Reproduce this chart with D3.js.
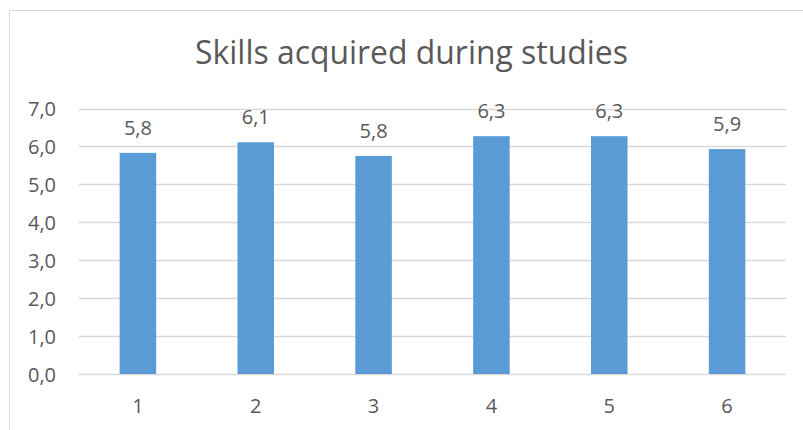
<!DOCTYPE html>
<html>
<head>
<meta charset="utf-8">
<script src="https://cdn.jsdelivr.net/npm/d3@7"></script>
<style>
  body { margin: 0; background: #fff; }
  text { font-family: "Open Sans", sans-serif; fill: #595959; }
</style>
</head>
<body>
<div id="chart"></div>
<script>
const w = 803;
const h = 430;

// data
const categories = ["1", "2", "3", "4", "5", "6"];
const values = [5.83, 6.11, 5.75, 6.27, 6.27, 5.93];
const yTicks = [0, 1, 2, 3, 4, 5, 6, 7];
const title = "Skills acquired during studies";

const fmt = v => d3.format(".1f")(v).replace(".", ",");

const svg = d3.select("#chart")
    .append("svg")
    .attr("width", w)
    .attr("height", h);

// chart area frame (cropped at right and bottom)
svg.append("rect")
    .attr("x", 9.5)
    .attr("y", 10.5)
    .attr("width", w + 20)
    .attr("height", h + 20)
    .attr("fill", "none")
    .attr("stroke", "#d9d9d9");

const plot = {left: 79, right: 786, top: 108.5, bottom: 374};

const x = d3.scaleBand()
    .domain(categories)
    .range([plot.left, plot.right])
    .paddingInner(0.69)
    .paddingOuter(0.345);

const y = d3.scaleLinear()
    .domain([0, 7])
    .range([plot.bottom, plot.top]);

// gridlines
svg.append("g")
    .selectAll("line")
    .data(yTicks)
    .enter()
    .append("line")
    .attr("x1", plot.left)
    .attr("x2", plot.right)
    .attr("y1", d => Math.round(y(d)) + 0.5)
    .attr("y2", d => Math.round(y(d)) + 0.5)
    .attr("stroke", "#d9d9d9")
    .attr("stroke-width", 1.3);

// y axis labels
const yAxis = d3.axisLeft(y)
    .tickValues(yTicks)
    .tickFormat(fmt)
    .tickSize(0)
    .tickPadding(0);

svg.append("g")
    .attr("transform", `translate(${56}, 0)`)
    .call(yAxis)
    .call(g => g.select(".domain").remove())
    .selectAll("text")
    .attr("font-family", "Open Sans")
    .attr("font-size", 20)
    .attr("dy", "0.35em")
    .attr("fill", "#595959");

// bars
svg.append("g")
    .selectAll("rect")
    .data(values)
    .enter()
    .append("rect")
    .attr("x", (d, i) => x(categories[i]))
    .attr("y", d => y(d))
    .attr("width", x.bandwidth())
    .attr("height", d => y(0) - y(d))
    .attr("fill", "#5b9bd5");

// value labels
svg.append("g")
    .selectAll("text")
    .data(values)
    .enter()
    .append("text")
    .attr("x", (d, i) => x(categories[i]) + x.bandwidth() / 2)
    .attr("y", d => y(d) - 18)
    .attr("text-anchor", "middle")
    .attr("font-size", 20)
    .attr("fill", "#404040")
    .text(fmt);

// x axis labels
const xAxis = d3.axisBottom(x)
    .tickSize(0)
    .tickPadding(0);

svg.append("g")
    .attr("transform", `translate(0, ${413})`)
    .call(xAxis)
    .call(g => g.select(".domain").remove())
    .selectAll("text")
    .attr("font-family", "Open Sans")
    .attr("font-size", 20)
    .attr("dy", 0)
    .attr("fill", "#595959");

// title, sized to the width it takes in the picture
const t = svg.append("text")
    .attr("x", 411.5)
    .attr("y", 64)
    .attr("text-anchor", "middle")
    .attr("font-size", 30)
    .attr("fill", "#595959")
    .text(title);
const len = t.node().getComputedTextLength();
t.attr("font-size", 30 * 433 / len);
</script>
</body>
</html>
